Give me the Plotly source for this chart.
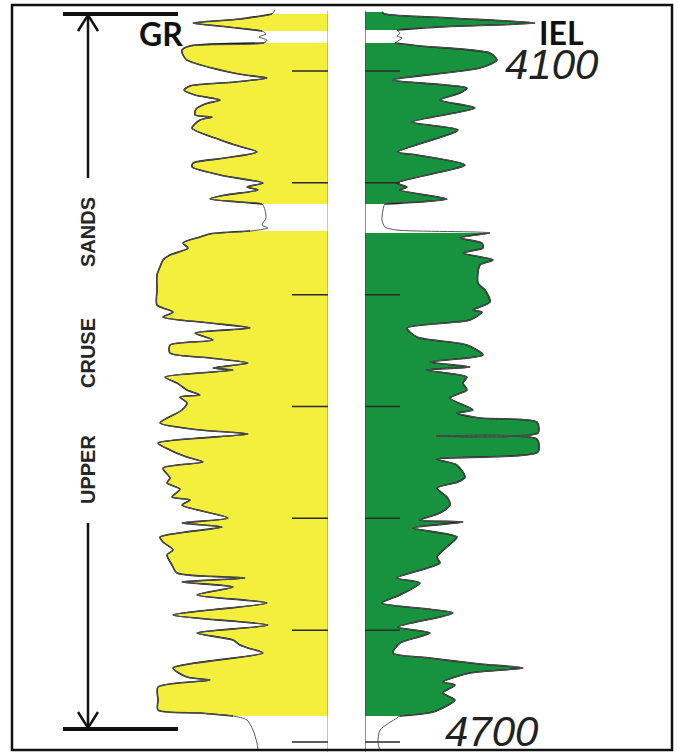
import plotly.graph_objects as go

W, H = 678, 753

GR_DEPTH = [4045.4, 4049.0, 4053.5, 4057.1, 4060.6, 4064.2, 4066.9, 4069.6, 4072.3, 4075.0,
            4077.6, 4081.2, 4085.7, 4090.2, 4097.3, 4103.6, 4106.2, 4109.8, 4113.4, 4117.0,
            4121.5, 4125.9, 4129.5, 4134.0, 4139.3, 4141.1, 4143.8, 4151.0, 4159.9, 4166.2,
            4172.4, 4177.8, 4182.3, 4185.8, 4193.9, 4200.1, 4203.7, 4206.4, 4210.9, 4214.4,
            4217.1, 4218.9, 4224.3, 4231.4, 4237.7, 4240.4, 4243.1, 4245.7, 4248.4, 4253.8,
            4258.3, 4264.5, 4269.0, 4275.2, 4282.4, 4295.8, 4309.2, 4315.5, 4320.0, 4325.3,
            4329.8, 4334.3, 4340.5, 4345.0, 4352.2, 4356.6, 4361.1, 4365.6, 4367.4, 4373.6,
            4379.0, 4385.2, 4389.7, 4391.5, 4396.9, 4403.1, 4414.7, 4421.0, 4424.6, 4432.6,
            4438.9, 4445.2, 4449.6, 4455.0, 4463.9, 4468.4, 4473.8, 4480.9, 4483.6, 4488.1,
            4499.7, 4504.2, 4507.7, 4516.7, 4521.2, 4528.3, 4532.8, 4541.7, 4548.9, 4553.3,
            4556.9, 4561.4, 4568.5, 4575.7, 4586.4, 4595.4, 4602.5, 4608.8, 4613.3, 4615.9,
            4620.4, 4633.8, 4641.9, 4644.6, 4650.8, 4662.4, 4671.4, 4674.1, 4676.7, 4680.3,
            4689.3, 4700.9, 4707.1]
GR_API = [147, 144, 112, 65, 100, 134, 138, 131, 139, 136,
          62, 54, 55, 59, 84, 117, 139, 107, 62, 56,
          67, 92, 77, 68, 67, 84, 72, 64, 87, 107,
          129, 97, 65, 64, 97, 135, 119, 130, 97, 82,
          112, 134, 137, 138, 134, 140, 122, 82, 72, 55,
          60, 42, 35, 32, 29, 29, 29, 45, 35, 82,
          122, 67, 85, 42, 42, 82, 120, 85, 105, 37,
          49, 59, 72, 52, 59, 54, 32, 72, 120, 30,
          42, 59, 75, 35, 42, 39, 52, 44, 62, 54,
          100, 54, 94, 32, 35, 45, 39, 44, 49, 117,
          54, 105, 69, 139, 45, 140, 69, 105, 112, 120,
          135, 45, 59, 82, 30, 30, 30, 72, 105, 119,
          125, 129, 130]

IEL_DEPTH = [4047.2, 4049.0, 4052.6, 4057.1, 4060.6, 4063.3, 4066.0, 4068.7, 4070.5, 4073.2,
             4075.0, 4077.6, 4083.9, 4090.2, 4097.3, 4108.0, 4115.2, 4119.7, 4125.9, 4133.1,
             4145.6, 4152.7, 4172.4, 4175.1, 4184.0, 4200.1, 4203.7, 4206.4, 4214.4, 4217.1,
             4218.9, 4224.3, 4233.2, 4239.5, 4242.2, 4244.8, 4249.3, 4253.8, 4258.3, 4262.7,
             4269.0, 4273.5, 4289.6, 4295.8, 4306.6, 4313.7, 4315.5, 4322.6, 4329.8, 4337.8,
             4345.0, 4353.9, 4360.2, 4364.7, 4367.4, 4373.6, 4379.0, 4385.2, 4392.4, 4403.1,
             4405.8, 4410.3, 4413.9, 4423.7, 4426.4, 4429.1, 4440.7, 4446.9, 4452.3, 4463.0,
             4467.5, 4472.9, 4480.9, 4488.1, 4495.2, 4501.5, 4503.3, 4508.6, 4516.7, 4525.6,
             4534.6, 4539.9, 4553.3, 4557.8, 4568.5, 4575.7, 4584.6, 4597.2, 4602.5, 4611.5,
             4620.4, 4624.9, 4630.2, 4633.8, 4638.3, 4646.3, 4649.0, 4656.2, 4662.4, 4673.2,
             4676.7, 4678.5, 4689.3, 4700.9, 4707.1]
IEL_OHMM = [1.7, 2.0, 8.5, 17.0, 7.5, 3.2, 3.5, 3.2, 3.7, 3.3,
            3.0, 5.5, 12.5, 13.2, 11.5, 2.8, 10.2, 9.5, 7.5, 11.0,
            4.7, 9.3, 3.3, 5.2, 10.0, 3.2, 4.2, 3.5, 8.2, 5.5,
            2.0, 1.8, 1.7, 2.0, 3.2, 12.5, 9.5, 11.7, 11.8, 9.8,
            12.8, 11.5, 11.3, 12.0, 12.5, 10.8, 11.7, 10.5, 4.2, 5.2,
            10.2, 11.8, 6.5, 10.5, 6.2, 10.2, 9.8, 10.2, 8.5, 10.8,
            9.2, 11.5, 17.2, 17.3, 7.2, 17.2, 17.3, 7.2, 9.2, 10.0,
            9.3, 7.2, 8.2, 8.5, 7.5, 5.5, 9.8, 4.8, 9.2, 8.2,
            7.2, 7.5, 3.2, 5.5, 3.5, 1.7, 8.8, 3.3, 6.5, 3.5,
            2.8, 6.5, 11.5, 15.8, 10.5, 7.8, 9.0, 7.8, 9.0, 6.8,
            3.5, 3.2, 1.5, 1.3, 1.5]

GR_FILL_INTERVALS = [(4049.0, 4064.2), (4075.0, 4218.9), (4243.1, 4676.7)]
IEL_FILL_INTERVALS = [(4047.2, 4063.3), (4075.0, 4218.9), (4244.8, 4676.7)]
DEPTH_TICKS = [4100, 4200, 4300, 4400, 4500, 4600, 4700]
DEPTH_LABELS = ["4100", "4700"]
ZONE_WORDS = ["UPPER", "CRUSE", "SANDS"]
ZONE_TOP, ZONE_BASE = 4049.0, 4688.4
TRACK_TOP, TRACK_BASE = 4046.0, 4709.0

GR_RANGE = [0, 200]
IEL_RANGE = [0, 20]

YELLOW = "#F3EF3C"
GREEN = "#17923F"
DARK = "#1c1c1c"
SMOOTH = 0.7

fig = go.Figure()


def subset(depths, vals, a, b):
    return [(d, v) for d, v in zip(depths, vals) if a <= d <= b]


def add_filled(depths, vals, intervals, edge, axis, color):
    for a, b in intervals:
        pts = subset(depths, vals, a, b)
        fig.add_trace(go.Scatter(x=[edge, edge], y=[pts[0][0], pts[-1][0]], mode="lines",
                                 line=dict(width=0, color=color), xaxis=axis, yaxis="y",
                                 hoverinfo="skip"))
        fig.add_trace(go.Scatter(x=[v for _, v in pts], y=[d for d, _ in pts], mode="lines",
                                 fill="tonextx", fillcolor=color,
                                 line=dict(color=DARK, width=1.6, shape="spline", smoothing=SMOOTH),
                                 xaxis=axis, yaxis="y", hoverinfo="skip"))


add_filled(GR_DEPTH, GR_API, GR_FILL_INTERVALS, GR_RANGE[1], "x", YELLOW)
add_filled(IEL_DEPTH, IEL_OHMM, IEL_FILL_INTERVALS, IEL_RANGE[0], "x2", GREEN)

# track edges
fig.add_trace(go.Scatter(x=[GR_RANGE[1], GR_RANGE[1]], y=[TRACK_TOP, TRACK_BASE], mode="lines",
                         line=dict(color="#8a8a8a", width=1), xaxis="x", yaxis="y"))
fig.add_trace(go.Scatter(x=[IEL_RANGE[0], IEL_RANGE[0]], y=[TRACK_TOP, TRACK_BASE], mode="lines",
                         line=dict(color="#444", width=1.2), xaxis="x2", yaxis="y"))

# full curves (thin)
fig.add_trace(go.Scatter(x=GR_API, y=GR_DEPTH, mode="lines",
                         line=dict(color="#555", width=1, shape="spline", smoothing=SMOOTH),
                         xaxis="x", yaxis="y"))
fig.add_trace(go.Scatter(x=IEL_OHMM, y=IEL_DEPTH, mode="lines",
                         line=dict(color="#555", width=1, shape="spline", smoothing=SMOOTH),
                         xaxis="x2", yaxis="y"))

# depth ticks in both tracks
tx, ty, ix, iy = [], [], [], []
for d in DEPTH_TICKS:
    tx += [GR_RANGE[1] * 0.82, GR_RANGE[1], None]
    ty += [d, d, None]
    ix += [IEL_RANGE[0], IEL_RANGE[1] * 0.175, None]
    iy += [d, d, None]
fig.add_trace(go.Scatter(x=tx, y=ty, mode="lines", line=dict(color="#2a2a2a", width=1.5),
                         xaxis="x", yaxis="y"))
fig.add_trace(go.Scatter(x=ix, y=iy, mode="lines", line=dict(color="#2a2a2a", width=1.5),
                         xaxis="x2", yaxis="y"))


def px(x):
    return x / W


def py(y):
    return 1 - y / H


shapes = [
    dict(type="rect", xref="paper", yref="paper", x0=px(12), x1=px(672), y0=py(750), y1=py(5),
         line=dict(color="#111", width=2.5)),
    dict(type="line", xref="paper", yref="y", x0=px(63), x1=px(178), y0=ZONE_TOP, y1=ZONE_TOP,
         line=dict(color="#111", width=4)),
    dict(type="line", xref="paper", yref="y", x0=px(63), x1=px(178), y0=ZONE_BASE, y1=ZONE_BASE,
         line=dict(color="#111", width=4)),
    dict(type="line", xref="paper", yref="y", x0=px(88), x1=px(88), y0=ZONE_TOP, y1=4195.7,
         line=dict(color="#111", width=2.5)),
    dict(type="line", xref="paper", yref="y", x0=px(88), x1=px(88), y0=4504.2, y1=ZONE_BASE,
         line=dict(color="#111", width=2.5)),
    dict(type="path", xref="paper", yref="paper",
         path=f"M {px(78)} {py(31)} L {px(88)} {py(15)} L {px(98)} {py(31)}",
         line=dict(color="#111", width=2.5)),
    dict(type="path", xref="paper", yref="paper",
         path=f"M {px(78)} {py(712)} L {px(88)} {py(728)} L {px(98)} {py(712)}",
         line=dict(color="#111", width=2.5)),
]

ann = []
word_y = [470, 353, 232]
for w, yy in zip(ZONE_WORDS, word_y):
    ann.append(dict(text=f"<b>{w}</b>", xref="paper", yref="paper", x=px(88), y=py(yy), textangle=-90,
                    showarrow=False, xanchor="center", yanchor="middle",
                    font=dict(family="Liberation Sans, Arial", size=20, color="#262626")))
ann.append(dict(text="<b>GR</b>", xref="paper", yref="paper", x=px(161), y=py(34), showarrow=False,
                xanchor="center", yanchor="middle", font=dict(family="Lato", size=32, color="#111")))
ann.append(dict(text="<b>IEL</b>", xref="paper", yref="paper", x=px(561), y=py(33), showarrow=False,
                xanchor="center", yanchor="middle", font=dict(family="Lato", size=32, color="#111")))
ann.append(dict(text=f"<i>{DEPTH_LABELS[0]}</i>", xref="paper", yref="paper", x=px(552), y=py(64),
                showarrow=False, xanchor="center", yanchor="middle",
                font=dict(family="Liberation Sans, Arial", size=42, color="#222")))
ann.append(dict(text=f"<i>{DEPTH_LABELS[1]}</i>", xref="paper", yref="paper", x=px(492), y=py(731),
                showarrow=False, xanchor="center", yanchor="middle",
                font=dict(family="Liberation Sans, Arial", size=42, color="#222")))

fig.update_layout(
    width=W, height=H, autosize=False,
    margin=dict(l=0, r=0, t=0, b=0),
    paper_bgcolor="white", plot_bgcolor="white",
    showlegend=False,
    xaxis=dict(domain=[px(128), px(328)], range=GR_RANGE, visible=False, anchor="y", fixedrange=True),
    xaxis2=dict(domain=[px(365), px(565)], range=IEL_RANGE, visible=False, anchor="y", fixedrange=True),
    yaxis=dict(domain=[0, 1], range=[4709.8, 4036.5], visible=False, fixedrange=True),
    shapes=shapes,
    annotations=ann,
)

fig.write_html("out.html", config={"displayModeBar": False},
               post_script="document.body.style.margin='0px';")
